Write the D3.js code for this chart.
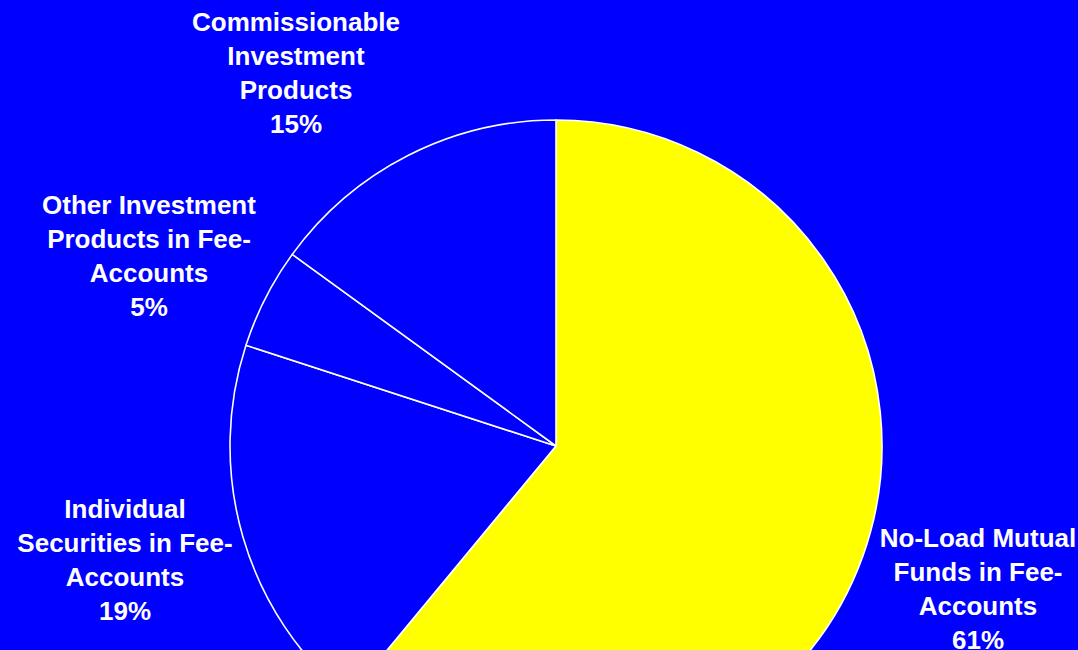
<!DOCTYPE html>
<html>
<head>
<meta charset="utf-8">
<script src="https://cdn.jsdelivr.net/npm/d3@7"></script>
<style>
  html, body { margin: 0; padding: 0; background: #0000ff; }
  svg { display: block; }
</style>
</head>
<body>
<svg id="chart" width="1078" height="650"></svg>
<script>
// Share of assets by product type
const categories = [
  "No-Load Mutual Funds in Fee-Accounts",
  "Individual Securities in Fee-Accounts",
  "Other Investment Products in Fee-Accounts",
  "Commissionable Investment Products"
];
const shares = [61, 19, 5, 15];
const labelLines = [
  ["No-Load Mutual", "Funds in Fee-", "Accounts", "61%"],
  ["Individual", "Securities in Fee-", "Accounts", "19%"],
  ["Other Investment", "Products in Fee-", "Accounts", "5%"],
  ["Commissionable", "Investment", "Products", "15%"]
];
const sliceColors = ["#ffff00", "#0000ff", "#0000ff", "#0000ff"];

const W = 1078, H = 650;
const cx = 556, cy = 446, radius = 326;

const svg = d3.select("#chart");
svg.append("rect").attr("width", W).attr("height", H).attr("fill", "#0000ff");

const pie = d3.pie().sort(null).value(d => d.value);
const arcs = pie(categories.map((c, i) => ({ name: c, value: shares[i], i })));
const arc = d3.arc().innerRadius(0).outerRadius(radius);

const g = svg.append("g").attr("transform", `translate(${cx},${cy})`);
g.selectAll("path")
  .data(arcs)
  .join("path")
  .attr("d", arc)
  .attr("fill", d => sliceColors[d.data.i])
  .attr("stroke", "#ffffff")
  .attr("stroke-width", 1.6)
  .attr("stroke-linejoin", "round");

// Label anchors: x centre and first baseline for each label block
const labelX = [978, 125, 149, 296];
const labelY = [547, 518, 214, 31];
const lineH = 34;

const labels = svg.append("g")
  .attr("font-family", "'Liberation Sans', Arial, Helvetica, sans-serif")
  .attr("font-weight", "bold")
  .attr("font-size", 26)
  .attr("fill", "#ffffff")
  .attr("text-anchor", "middle");

labels.selectAll("text")
  .data(arcs)
  .join("text")
  .attr("x", d => labelX[d.data.i])
  .attr("y", d => labelY[d.data.i])
  .selectAll("tspan")
  .data(d => labelLines[d.data.i])
  .join("tspan")
  .attr("x", function () { return d3.select(this.parentNode).attr("x"); })
  .attr("dy", (t, j) => j === 0 ? 0 : lineH)
  .text(t => t);
</script>
</body>
</html>
